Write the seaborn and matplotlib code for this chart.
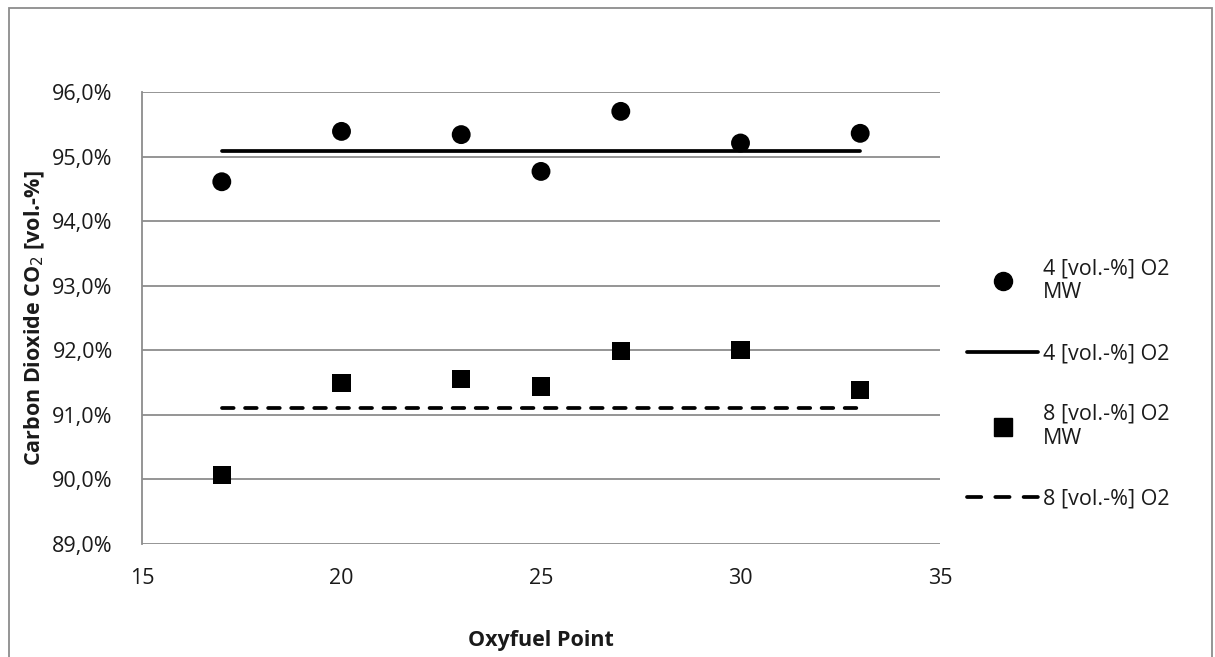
import matplotlib
import numpy as np
import pandas as pd
import seaborn as sns

matplotlib.use('Agg')
import matplotlib.pyplot as plt
from matplotlib.lines import Line2D
from matplotlib.patches import Rectangle
from matplotlib.ticker import FuncFormatter

# data
points = [17, 20, 23, 25, 27, 30, 33]
co2_4_mw = [94.61, 95.39, 95.34, 94.77, 95.70, 95.21, 95.36]
co2_8_mw = [90.07, 91.49, 91.55, 91.44, 91.99, 92.00, 91.38]
mean_4 = 95.09
mean_8 = 91.11
labels = ["4 [vol.-%] O2\nMW", "4 [vol.-%] O2", "8 [vol.-%] O2\nMW", "8 [vol.-%] O2"]

df = pd.DataFrame({"point": points, "co2_4": co2_4_mw, "co2_8": co2_8_mw})
df["mean_4"] = mean_4
df["mean_8"] = mean_8

# --------------------------------------------------------------------

sns.set_style("white")
plt.rcParams['font.family'] = ['Open Sans', 'DejaVu Sans']

fig = plt.figure(figsize=(12.15, 6.57), dpi=100)
ax = fig.add_axes([142 / 1215, 1 - 544 / 657, (940 - 142) / 1215, (544 - 92) / 657])

grid = "#8c8c8c"
txt = "#1a1a1a"
dash = (0, (3.1, 3.05))
lw = 2.7

sns.lineplot(data=df, x="point", y="mean_4", ax=ax, color="black", lw=lw,
             solid_capstyle="round")
sns.lineplot(data=df, x="point", y="mean_8", ax=ax, color="black", lw=lw,
             dashes=False, linestyle=dash, dash_capstyle="round")
sns.scatterplot(data=df, x="point", y="co2_4", ax=ax, color="black", marker="o",
                s=185, edgecolor="none")
sns.scatterplot(data=df, x="point", y="co2_8", ax=ax, color="black", marker="s",
                s=170, edgecolor="none")

ax.set_xlim(15, 35)
ax.set_ylim(89, 96)
ax.set_xticks([15, 20, 25, 30, 35])
ax.set_yticks(np.arange(89, 97, 1))
ax.yaxis.set_major_formatter(FuncFormatter(lambda v, p: f"{v:.1f}%".replace(".", ",")))
ax.grid(axis="y", color=grid, lw=1.3)
ax.set_axisbelow(True)
for s in ["top", "right", "bottom"]:
    ax.spines[s].set_visible(False)
ax.spines["left"].set_color(grid)
ax.spines["left"].set_linewidth(1.3)
ax.tick_params(axis="both", length=0, labelsize=15.5, colors=txt)
ax.tick_params(axis="y", pad=21)
ax.tick_params(axis="x", pad=17)

ax.set_xlabel("Oxyfuel Point", fontsize=15.5, fontweight="bold", labelpad=30, color=txt)
ax.set_ylabel("Carbon Dioxide CO$_2$ [vol.-%]", fontsize=15.5, fontweight="bold",
              labelpad=4, color=txt)

handles = [
    Line2D([], [], color="black", marker="o", ls="none", markersize=13),
    Line2D([], [], color="black", lw=lw, solid_capstyle="round"),
    Line2D([], [], color="black", marker="s", ls="none", markersize=12.5),
    Line2D([], [], color="black", lw=lw, ls=(0, (3.8, 3.75)), dash_capstyle="round"),
]
leg = fig.legend(handles, labels, loc="center left", bbox_to_anchor=(948 / 1215, 1 - 384 / 657),
                 frameon=False, fontsize=15.5, labelspacing=1.85, handlelength=3.3,
                 handletextpad=0.2)
for t in leg.get_texts():
    t.set_color(txt)

fig.patches.append(Rectangle((9 / 1215, -0.01), (1212 - 9) / 1215, 1 - 8 / 657 + 0.01,
                             transform=fig.transFigure, fill=False, edgecolor=grid, lw=1.3))

fig.savefig("out.png", dpi=100)
